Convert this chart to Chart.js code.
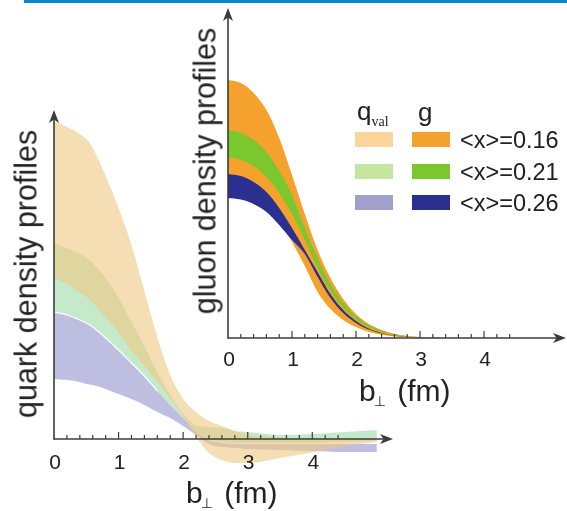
<!DOCTYPE html>
<html><head><meta charset="utf-8">
<script src="https://cdn.jsdelivr.net/npm/chart.js@4.4.1/dist/chart.umd.min.js"></script>
<style>
html,body{margin:0;padding:0;background:#fff;}
#wrap{position:relative;width:567px;height:511px;overflow:hidden;font-family:"Liberation Sans",Arial,Helvetica,sans-serif;color:#222;}
canvas{position:absolute;left:0;top:0;}
#bar{position:absolute;left:24px;top:0;width:543px;height:3px;background:#0a85c8;}
.ytitle{position:absolute;white-space:nowrap;font-size:30.5px;line-height:31px;transform:translate(-50%,-50%) rotate(-90deg);}
.xtitle{position:absolute;white-space:nowrap;font-size:30px;line-height:30px;}
.xtitle .sub{font-family:"DejaVu Sans",sans-serif;font-size:14px;vertical-align:-5px;margin-left:-2px;margin-right:3px;}
.sw{position:absolute;width:38px;height:15px;}
.lab{position:absolute;font-size:23.5px;line-height:22px;white-space:nowrap;}
.hd{position:absolute;font-size:26px;line-height:26px;white-space:nowrap;}
.hd .v{font-family:"Liberation Serif","Times New Roman",serif;font-size:14px;vertical-align:-6px;}
</style></head><body>
<div id="wrap">
<div id="bar"></div>
<canvas id="cq" width="567" height="511" style="width:567px;height:511px"></canvas>
<canvas id="cg" width="567" height="511" style="width:567px;height:511px"></canvas>
<div class="ytitle" style="left:26px;top:274px;">quark density profiles</div>
<div class="ytitle" style="left:205px;top:171px;">gluon density profiles</div>
<div class="xtitle" style="left:186px;top:478px;">b<span class="sub">⊥</span> (fm)</div>
<div class="xtitle" style="left:359px;top:376px;">b<span class="sub">⊥</span> (fm)</div>
<div class="hd" style="left:357px;top:98px;">q<span class="v">val</span></div>
<div class="hd" style="left:418px;top:99px;">g</div>
<div id="legend"></div>
</div>
<script>
// ---------- data ----------
const B_QUARK = [0, 0.2, 0.4, 0.5, 0.6, 0.8, 1.0, 1.2, 1.4, 1.6, 1.8, 2.0, 2.2, 2.4, 2.6, 2.8, 3.0, 3.5, 4.0, 4.5, 5.0];
const Q16_HI = [318, 312, 305, 300, 291, 263, 231, 194, 148, 102, 64, 40, 27, 18, 13, 8, 4.5, 1.5, 1, 1, 0];
const Q16_LO = [161, 155, 146, 142, 136, 122, 106, 88, 73, 57, 41, 23, 2, -14, -21, -24, -24, -19, -13.5, -7, -3];
const Q21_HI = [196, 191, 185, 181, 176, 161, 141, 117, 93, 67, 44, 25, 14, 12, 11, 8, 7, 4, 5, 7, 9];
const Q21_LO = [127, 124, 119, 116, 112, 101, 89, 76, 63, 48, 34, 21, 8, 0, -3, -4, -4, -4, -4, -3, -2];
const Q26_HI = [127, 124, 119, 116, 112, 101, 89, 76, 63, 48, 34, 21, 8, -1, -4, -5, -5, -5, -5, -5, -5];
const Q26_LO = [60, 59, 57, 55, 54, 50, 45, 40, 34, 27, 21, 13, 4, -5, -8, -9, -10, -11, -12, -13, -13];

const B_GLUON = [0, 0.2, 0.4, 0.6, 0.8, 1.0, 1.2, 1.4, 1.6, 1.8, 2.0, 2.2, 2.4, 2.6, 2.8, 3.0, 3.2, 3.4];
const G16_HI = [258, 255, 245, 228, 200, 163, 124, 88, 60, 39, 24, 14, 8, 4, 2, 1, 0.3, 0];
const G16_LO = [150, 148, 143, 133, 117, 96, 72, 46, 29, 18, 11, 6, 3.2, 1.6, 0.7, 0.3, 0.1, 0];
const G21_HI = [208, 205, 198, 186, 167, 143, 110, 80, 54, 35, 22, 13, 7.5, 4, 2, 0.9, 0.3, 0];
const G21_LO = [181, 178, 172, 161, 145, 124, 98, 70, 47, 30, 18.5, 11, 6.2, 3.3, 1.6, 0.7, 0.25, 0];
const G26_HI = [164, 162, 156, 146, 130, 110, 88, 66, 44, 28, 17, 9.5, 5, 2.5, 1.1, 0.5, 0.15, 0];
const G26_LO = [140, 138.5, 134, 126, 113, 98, 84, 61, 40, 25, 15, 8.5, 4.5, 2.2, 1, 0.4, 0.1, 0];

const X_LABELS = ['<x>=0.16', '<x>=0.21', '<x>=0.26'];
const MINOR_TICKS = [0.2,0.4,0.6,0.8,1.2,1.4,1.6,1.8,2.2,2.4,2.6,2.8,3.2,3.4,3.6,3.8,4.2,4.4];
const MAJOR_TICKS = [1, 2, 3, 4];
const TICK_LABELS = ['0', '1', '2', '3', '4'];
const EDGE_MAX_B = 1.6;

// ---------- styles ----------
const QCOL = ['rgba(240,200,130,0.6)', 'rgba(150,215,160,0.55)', 'rgba(150,150,205,0.62)'];
const QSW = ['#fcd59c', '#c5e6a0', '#a0a0cd'];
const GCOL = ['#f5a12e', '#7ac82e', '#2b2f8f'];

function band(xs, hi, lo, color, order) {
  const common = {borderColor: 'rgba(0,0,0,0)', borderWidth: 0, pointRadius: 0, cubicInterpolationMode: 'monotone', order, backgroundColor: color};
  return [
    {...common, data: xs.map((x, i) => ({x, y: hi[i]})), fill: '+1'},
    {...common, data: xs.map((x, i) => ({x, y: lo[i]})), fill: false}
  ];
}

function arrow(ctx, tx, ty, dir) {
  const L = 13, W = 5, N = 3.5;
  ctx.beginPath();
  if (dir === 'right') { ctx.moveTo(tx, ty); ctx.lineTo(tx - L, ty - W); ctx.lineTo(tx - L + N, ty); ctx.lineTo(tx - L, ty + W); }
  else { ctx.moveTo(tx, ty); ctx.lineTo(tx - W, ty + L); ctx.lineTo(tx, ty + L - N); ctx.lineTo(tx + W, ty + L); }
  ctx.closePath(); ctx.fill();
}

const axesPlugin = {
  id: 'axes',
  afterDatasetsDraw(chart, args, opts) {
    const {ctx} = chart; const x = chart.scales.x, y = chart.scales.y;
    const x0 = x.getPixelForValue(0), y0 = y.getPixelForValue(0);
    const xe = x.getPixelForValue(x.max), yt = y.getPixelForValue(y.max);
    ctx.save();
    ctx.strokeStyle = '#3c3c3c'; ctx.fillStyle = '#3c3c3c'; ctx.lineWidth = 1.6;
    ctx.beginPath(); ctx.moveTo(x0, y0); ctx.lineTo(xe - 9, y0); ctx.stroke();
    ctx.beginPath(); ctx.moveTo(x0, y0 + 0.8); ctx.lineTo(x0, yt + 9); ctx.stroke();
    arrow(ctx, xe, y0, 'right'); arrow(ctx, x0, yt, 'up');
    ctx.lineWidth = 1.2;
    for (const t of MINOR_TICKS) { const p = x.getPixelForValue(t); ctx.beginPath(); ctx.moveTo(p, y0); ctx.lineTo(p, y0 - 4); ctx.stroke(); }
    for (const t of MAJOR_TICKS) { const p = x.getPixelForValue(t); ctx.beginPath(); ctx.moveTo(p, y0); ctx.lineTo(p, y0 - 7); ctx.stroke(); }
    ctx.fillStyle = '#222';
    ctx.font = '21px "Liberation Sans", Arial, sans-serif';
    ctx.textAlign = 'center'; ctx.textBaseline = 'middle';
    for (const l of TICK_LABELS) ctx.fillText(l, x.getPixelForValue(Number(l)) + 1, y0 + opts.labelOffset);
    ctx.restore();
  }
};

function makeChart(id, datasets, xmax, ymin, ymax, padding, labelOffset) {
  return new Chart(document.getElementById(id), {
    type: 'line',
    data: {datasets},
    options: {
      responsive: false, animation: false, events: [],
      layout: {padding},
      plugins: {legend: {display: false}, tooltip: {enabled: false}, axes: {labelOffset}},
      scales: {
        x: {type: 'linear', min: 0, max: xmax, display: false},
        y: {type: 'linear', min: ymin, max: ymax, display: false}
      }
    },
    plugins: [axesPlugin]
  });
}

// white seam between green and blue quark bands
const edge = {
  data: B_QUARK.map((x, i) => ({x, y: Q26_HI[i]})).filter(p => p.x <= EDGE_MAX_B),
  fill: false, borderColor: 'rgba(255,255,255,0.95)', borderWidth: 1.3, pointRadius: 0,
  cubicInterpolationMode: 'monotone', order: 0
};

makeChart('cq', [
  edge,
  ...band(B_QUARK, Q16_HI, Q16_LO, QCOL[0], 1),
  ...band(B_QUARK, Q21_HI, Q21_LO, QCOL[1], 2),
  ...band(B_QUARK, Q26_HI, Q26_LO, QCOL[2], 3)
], 5.25, -30, 329, {left: 54, right: 174, top: 110, bottom: 42}, 24);

makeChart('cg', [
  ...band(B_GLUON, G26_HI, G26_LO, GCOL[2], 1),
  ...band(B_GLUON, G21_HI, G21_LO, GCOL[1], 2),
  ...band(B_GLUON, G16_HI, G16_LO, GCOL[0], 3)
], 5.28, 0, 330, {left: 228, right: 1, top: 8, bottom: 173}, 22);

// ---------- legend ----------
const leg = document.getElementById('legend');
const ROW_Y = [132, 163.5, 195];
X_LABELS.forEach((t, i) => {
  const a = document.createElement('div'); a.className = 'sw'; a.style.left = '355px'; a.style.top = ROW_Y[i] + 'px'; a.style.background = QSW[i]; leg.appendChild(a);
  const b = document.createElement('div'); b.className = 'sw'; b.style.left = '412px'; b.style.top = ROW_Y[i] + 'px'; b.style.background = GCOL[i]; leg.appendChild(b);
  const l = document.createElement('div'); l.className = 'lab'; l.style.left = '460px'; l.style.top = (ROW_Y[i] - 3) + 'px'; l.textContent = t; leg.appendChild(l);
});
</script>
</body></html>
